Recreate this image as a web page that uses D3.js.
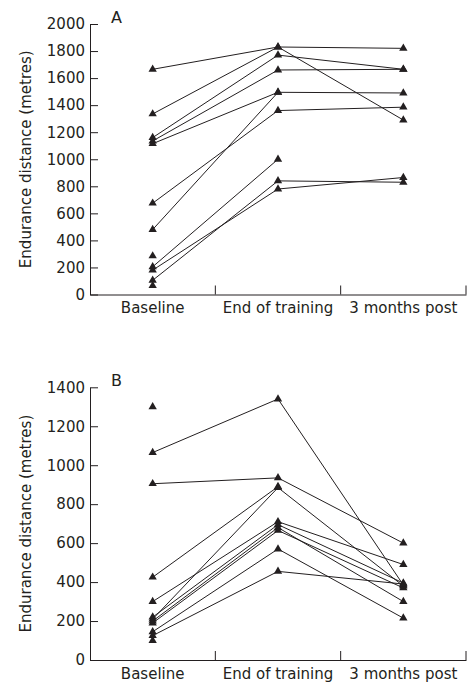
<!DOCTYPE html>
<html>
<head>
<meta charset="utf-8">
<script src="https://cdn.jsdelivr.net/npm/d3@7"></script>
<style>
  html, body { margin: 0; padding: 0; background: #fff; }
  svg { display: block; }
  text { font-family: "DejaVu Sans", sans-serif; fill: #231f20; }
</style>
</head>
<body>
<svg id="chart" width="468" height="685"></svg>
<script>
// ---------- data ----------
const categories = ["Baseline", "End of training", "3 months post"];

const ticksA = [0, 200, 400, 600, 800, 1000, 1200, 1400, 1600, 1800, 2000];
const ticksB = [0, 200, 400, 600, 800, 1000, 1200, 1400];

// Panel A: one entry per subject (null = no measurement)
const aBaseline = [1665, 1335, 1160, 1135, 1115, 675, 480, 285, 205, 180, 105, 65];
const aEnd      = [1830, 1830, 1770, 1660, 1495, 1360, 1495, null, 1000, 780, 840, null];
const aPost     = [1820, 1290, 1665, 1665, 1490, 1385, null, null, null, 865, 830, null];

// Panel B
const bBaseline = [1300, 1065, 905, 425, 210, 300, 220, 200, 190, 145, 125, 100];
const bEnd      = [null, 1340, 935, 890, 885, 710, 695, 680, 665, 570, 455, null];
const bPost     = [null, 385, 600, null, 380, 490, 395, 300, 370, 215, 390, null];

// ---------- drawing ----------
const svg = d3.select("#chart");
const ink = "#231f20";

function panel(opts) {
  const { top, bottom, max, ticks, label, base, end, post } = opts;
  const g = svg.append("g");

  const x = d3.scaleBand().domain(categories).range([90, 466]);
  const y = d3.scaleLinear().domain([0, max]).range([bottom, top]);

  // y axis
  const yAxis = d3.axisLeft(y).tickValues(ticks).tickFormat(d3.format("d"))
    .tickSize(-8).tickSizeOuter(0).tickPadding(5);
  const ya = g.append("g").attr("transform", "translate(90,0)").call(yAxis);
  ya.selectAll("text").style("font-size", "15px").attr("fill", ink);
  ya.selectAll("line, path").attr("stroke", ink).attr("stroke-width", 1);

  // x axis (labels at band centres, ticks at band boundaries)
  const xAxis = d3.axisBottom(x).tickSize(0).tickSizeOuter(0).tickPadding(8);
  const xa = g.append("g").attr("transform", `translate(0,${y(0)})`).call(xAxis);
  xa.selectAll("text").style("font-size", "15px").attr("fill", ink);
  xa.select("path").attr("stroke", ink).attr("stroke-width", 1);
  xa.selectAll(".bound").data(categories).enter().append("line")
    .attr("x1", d => x(d) + x.bandwidth()).attr("x2", d => x(d) + x.bandwidth())
    .attr("y1", 0).attr("y2", -9).attr("stroke", ink).attr("stroke-width", 1);

  // y title
  const mid = (top + bottom) / 2;
  g.append("text")
    .attr("transform", `translate(31,${mid}) rotate(-90)`)
    .attr("text-anchor", "middle")
    .style("font-size", "15px")
    .text("Endurance distance (metres)");

  // panel letter
  g.append("text").attr("x", 111).attr("y", top - 1)
    .style("font-size", "16px").text(label);

  const cx = c => x(c) + x.bandwidth() / 2;
  const subjects = base.map((b, i) => [b, end[i], post[i]]);

  const line = d3.line()
    .defined(d => d.v !== null)
    .x(d => cx(d.c)).y(d => y(d.v));

  subjects.forEach(s => {
    const pts = s.map((v, j) => ({ c: categories[j], v }));
    g.append("path").datum(pts).attr("d", line)
      .attr("fill", "none").attr("stroke", ink).attr("stroke-width", 1);
  });

  const tri = d3.symbol().type(d3.symbolTriangle).size(30);
  subjects.forEach(s => {
    s.forEach((v, j) => {
      if (v === null) return;
      g.append("path").attr("d", tri)
        .attr("transform", `translate(${cx(categories[j])},${y(v)})`)
        .attr("fill", ink);
    });
  });
}

panel({ top: 24, bottom: 294.5, max: 2000, ticks: ticksA, label: "A",
        base: aBaseline, end: aEnd, post: aPost });
panel({ top: 387.3, bottom: 660, max: 1400, ticks: ticksB, label: "B",
        base: bBaseline, end: bEnd, post: bPost });
</script>
</body>
</html>
